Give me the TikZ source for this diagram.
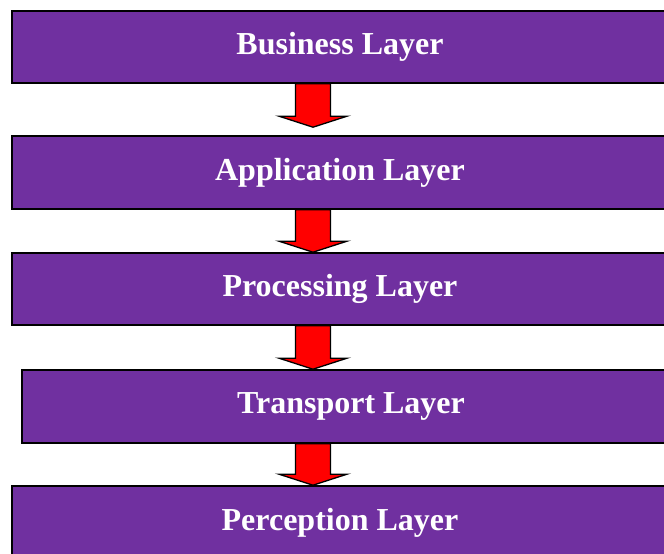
\documentclass[tikz,border=0pt]{standalone}
\usepackage{fontspec}
\setmainfont{Liberation Serif}
\usetikzlibrary{calc}
\definecolor{layerpurple}{HTML}{7030A0}
\definecolor{arrowred}{HTML}{FF0000}
\tikzset{
  layerbox/.style={draw=black, line width=1.6bp, fill=layerpurple, rectangle,
    minimum width=656bp, minimum height=72bp, inner sep=0pt, text=white,
    font=\fontsize{32bp}{38bp}\selectfont\bfseries},
  blockarrow/.style={draw=black, line width=1.3bp, fill=arrowred, line join=miter}
}
\newcommand\layerarrow[2]{%
  \draw[blockarrow] ($(#1)+(-17.5,0)$) -- ($(#1)+(17.5,0)$) -- ($(#2)+(17.5,-11)$)
    -- ($(#2)+(34,-11)$) -- (#2) -- ($(#2)+(-34,-11)$) -- ($(#2)+(-17.5,-11)$) -- cycle;}
\begin{document}
\begin{tikzpicture}[x=1bp,y=-1bp]
\useasboundingbox (0,0) rectangle (664,554);
\clip (0,0) rectangle (664,554);
\node[layerbox] (b1) at (340,47) {Business Layer};
\node[layerbox, minimum height=73bp] (b2) at (340,172.5) {Application Layer};
\node[layerbox] (b3) at (340,289) {Processing Layer};
\node[layerbox, minimum width=658bp, minimum height=73bp] (b4) at (351,406.5) {Transport Layer};
\node[layerbox, minimum height=73bp] (b5) at (340,522.5) {Perception Layer};
\coordinate (ax) at (313,0);
\coordinate (t1) at (ax |- b1.south);
\coordinate (t2) at (ax |- b2.south);
\coordinate (t3) at (ax |- b3.south);
\coordinate (t4) at (ax |- b4.south);
\coordinate (p1) at ($(ax |- b2.north)+(0,-8)$);
\coordinate (p2) at (ax |- b3.north);
\coordinate (p3) at (ax |- b4.north);
\coordinate (p4) at (ax |- b5.north);
\layerarrow{t1}{p1}
\layerarrow{t2}{p2}
\layerarrow{t3}{p3}
\layerarrow{t4}{p4}
\end{tikzpicture}
\end{document}
